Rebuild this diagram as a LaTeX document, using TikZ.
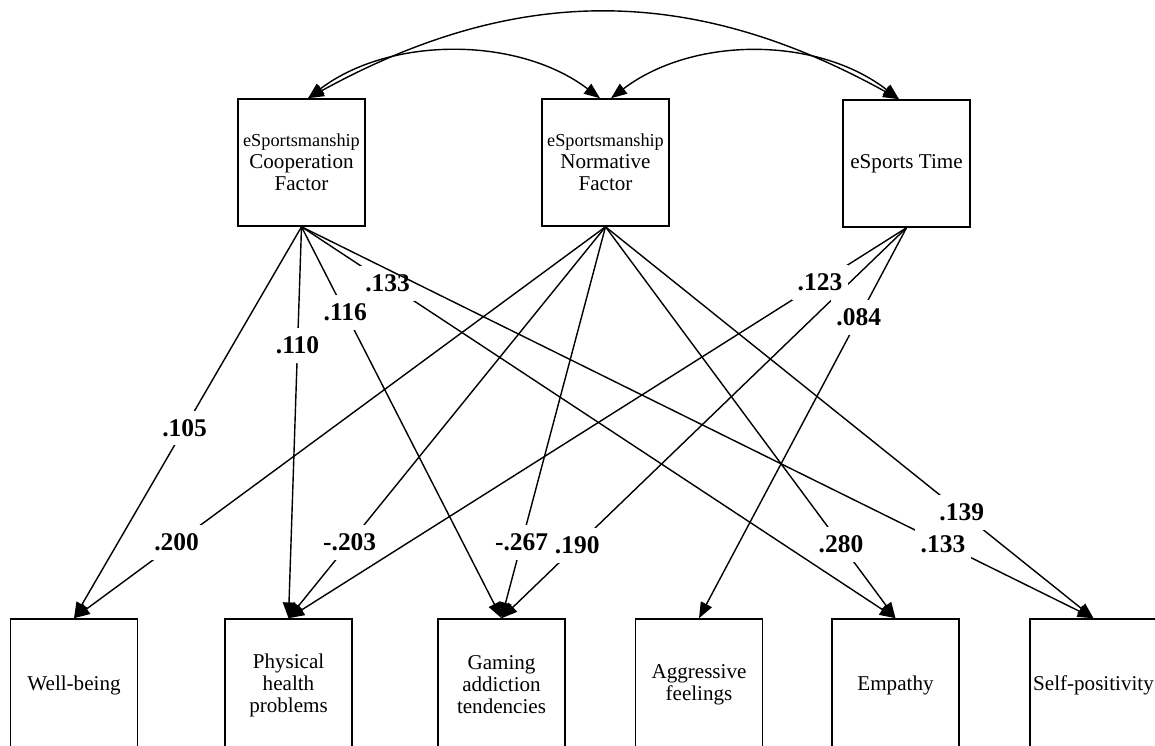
\documentclass[tikz,border=0pt]{standalone}
\usepackage{fontspec}
\setmainfont{Liberation Serif}
\usetikzlibrary{arrows.meta}

\begin{document}
\begin{tikzpicture}[x=0.02cm, y=-0.02cm,
    var/.style={draw, line width=0.9pt, minimum width=2.54cm, minimum height=2.54cm,
        inner sep=0pt, align=center, font=\fontsize{12}{12.5}\selectfont},
    outvar/.style={var, minimum height=2.64cm},
    coef/.style={fill=white, inner xsep=3pt, inner ysep=5pt,
        font=\fontsize{14.5}{16}\selectfont\bfseries},
    effect/.style={line width=0.8pt, -{Triangle[length=9pt, width=7pt]}},
    cov/.style={line width=0.8pt, {Triangle[length=9pt, width=7pt]}-{Triangle[length=9pt, width=7pt]}}]
    \useasboundingbox (0,0) rectangle (1155,746);
    \clip (0,0) rectangle (1155,746);
    \newcommand{\esm}{{\fontsize{10.4}{12.5}\selectfont eSportsmanship}}
    \node [var] (coop) at (301.5,162.5) {\esm\\Cooperation\\Factor};
    \node [var] (norm) at (605.5,162.5) {\esm\\Normative\\Factor};
    \node [var] (time) at (906.5,163.5) {eSports Time};
    \node [outvar] (wb) at (74,685) {Well-being};
    \node [outvar] (phys) at (288.5,685) {Physical\\health\\problems};
    \node [outvar] (game) at (501.5,685) {Gaming\\addiction\\tendencies};
    \node [outvar] (aggr) at (699,685) {Aggressive\\feelings};
    \node [outvar] (emp) at (895.5,685) {Empathy};
    \node [outvar] (self) at (1093.5,685) {Self-positivity};
    \draw [cov] ([xshift=0.13cm]coop.north) .. controls (390,36) and (518,36) .. ([xshift=-0.11cm]norm.north);
    \draw [cov] ([xshift=0.11cm]norm.north) .. controls (693,36) and (817,36) .. ([xshift=-0.15cm]time.north);
    \draw [cov] ([xshift=0.13cm]coop.north) .. controls (516,-16) and (691,-16) .. ([xshift=-0.15cm]time.north);
    \draw [effect] (coop.south) -- node [coef, pos=0.514] {.105} (wb.north);
    \draw [effect] (coop.south) -- node [coef, pos=0.303] {.110} (phys.north);
    \draw [effect] (coop.south) -- node [coef, pos=0.219] {.116} (game.north);
    \draw [effect] (coop.south) -- node [coef, pos=0.145] {.133} (emp.north);
    \draw [effect] (coop.south) -- node [coef, pos=0.81] {.133} (self.north);
    \draw [effect] (norm.south) -- node [coef, pos=0.807] {.200} (wb.north);
    \draw [effect] (norm.south) -- node [coef, pos=0.807] {-.203} (phys.north);
    \draw [effect] (norm.south) -- node [coef, pos=0.807] {-.267} (game.north);
    \draw [effect] (norm.south) -- node [coef, pos=0.812] {.280} (emp.north);
    \draw [effect] (norm.south) -- node [coef, pos=0.73] {.139} (self.north);
    \draw [effect] (time.south) -- node [coef, pos=0.813] {.190} (game.north);
    \draw [effect] (time.south) -- node [coef, pos=0.23] {.084} (aggr.north);
    \draw [effect] (time.south) -- node [coef, pos=0.14] {.123} (phys.north);
\end{tikzpicture}
\end{document}
